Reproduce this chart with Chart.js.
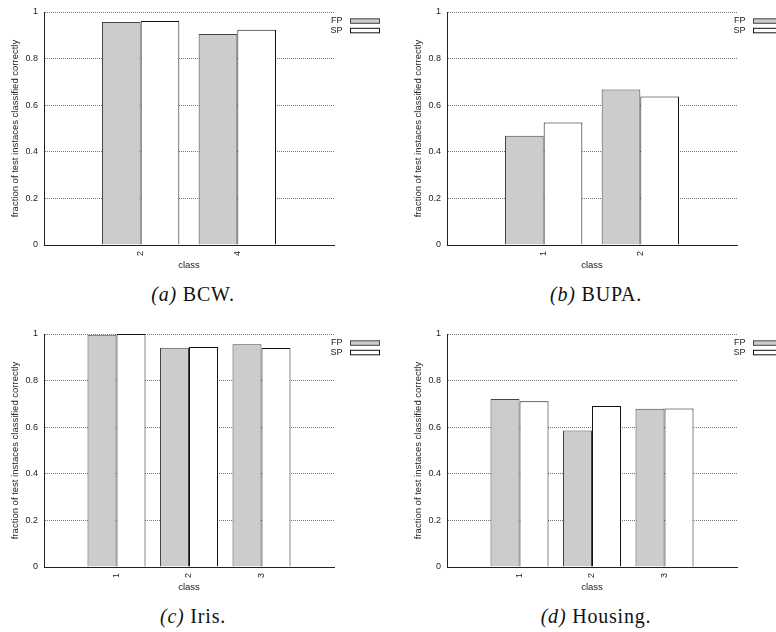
<!DOCTYPE html>
<html>
<head>
<meta charset="utf-8">
<script src="https://cdn.jsdelivr.net/npm/chart.js@4.4.1/dist/chart.umd.min.js"></script>
<style>
  html, body { margin: 0; padding: 0; background: #fff; overflow: hidden; }
  body { width: 776px; height: 632px; position: relative; }
  .panel { position: absolute; width: 403px; height: 310px; }
  .panel canvas { position: absolute; left: 0; top: 0; }
  .caption {
    position: absolute; left: 93px; width: 200px; top: 284px;
    text-align: center; font-family: "Liberation Serif", "Times New Roman", serif; font-size: 20px;
    letter-spacing: 0.8px; line-height: 20px; color: #111;
  }
</style>
</head>
<body>
<div class="panel" style="left:0;top:0"><canvas id="bcw" width="403" height="275"></canvas><div class="caption"><i>(a)</i> BCW.</div></div>
<div class="panel" style="left:403px;top:0"><canvas id="bupa" width="403" height="275"></canvas><div class="caption"><i>(b)</i> BUPA.</div></div>
<div class="panel" style="left:0;top:322px"><canvas id="iris" width="403" height="275"></canvas><div class="caption"><i>(c)</i> Iris.</div></div>
<div class="panel" style="left:403px;top:322px"><canvas id="housing" width="403" height="275"></canvas><div class="caption"><i>(d)</i> Housing.</div></div>
<script>
const seriesLabels = ["FP", "SP"];

const bcwClasses = ["2", "4"];
const bcwFP = [0.957, 0.906];
const bcwSP = [0.961, 0.924];

const bupaClasses = ["1", "2"];
const bupaFP = [0.469, 0.667];
const bupaSP = [0.526, 0.637];

const irisClasses = ["1", "2", "3"];
const irisFP = [0.997, 0.941, 0.956];
const irisSP = [1.0, 0.944, 0.94];

const housingClasses = ["1", "2", "3"];
const housingFP = [0.721, 0.586, 0.679];
const housingSP = [0.711, 0.691, 0.68];

const colors = {
  fpFill: "#cccccc",
  fpBorder: "#444",
  spFill: "#ffffff",
  spBorder: "#111",
  text: "#222",
  grid: "#777",
  axis: "#222",
};

const sans = "'Liberation Sans', Arial, sans-serif";

// gnuplot style key: label on the left, sample box on the right
const keyPlugin = {
  id: "key",
  afterDraw(chart) {
    const { ctx, chartArea } = chart;
    ctx.save();
    ctx.font = `9px ${sans}`;
    ctx.textAlign = "right";
    ctx.textBaseline = "middle";
    chart.data.datasets.forEach((ds, i) => {
      const y = chartArea.top + 8.8 + i * 9.5;
      ctx.fillStyle = colors.text;
      ctx.fillText(ds.label, chartArea.right + 8.5, y);
      ctx.fillStyle = ds.backgroundColor;
      ctx.fillRect(chartArea.right + 16.5, y - 2, 29, 4.5);
      ctx.strokeStyle = ds.borderColor;
      ctx.lineWidth = 1;
      ctx.strokeRect(chartArea.right + 16.5, y - 2, 29, 4.5);
    });
    ctx.restore();
  },
};

function makeChart(id, classes, fp, sp) {
  const ctx = document.getElementById(id).getContext("2d");
  return new Chart(ctx, {
    type: "bar",
    data: {
      datasets: [
        {
          label: seriesLabels[0],
          data: fp.map((v, i) => ({ x: i + 1, y: v })),
          backgroundColor: colors.fpFill,
          borderColor: colors.fpBorder,
          borderWidth: 1,
        },
        {
          label: seriesLabels[1],
          data: sp.map((v, i) => ({ x: i + 1, y: v })),
          backgroundColor: colors.spFill,
          borderColor: colors.spBorder,
          borderWidth: 1,
        },
      ],
    },
    options: {
      responsive: false,
      animation: false,
      events: [],
      layout: { padding: { top: 12, right: 69, left: 0, bottom: 0 } },
      datasets: { bar: { categoryPercentage: 0.8, barPercentage: 1.0, borderSkipped: "bottom" } },
      plugins: { legend: { display: false }, tooltip: { enabled: false } },
      scales: {
        x: {
          type: "linear",
          offset: false,
          min: 0,
          max: classes.length + 1,
          afterBuildTicks: (axis) => {
            axis.ticks = classes.map((c, i) => ({ value: i + 1 }));
          },
          afterFit: (scale) => {
            scale.height = 30;
          },
          ticks: {
            callback: (v) => classes[v - 1],
            minRotation: 90,
            maxRotation: 90,
            padding: 6,
            color: colors.text,
            font: { family: sans, size: 9 },
          },
          grid: { display: false, drawTicks: false, offset: false },
          border: { display: true, color: colors.axis, width: 1 },
          title: {
            display: true,
            text: "class",
            color: colors.text,
            font: { family: sans, size: 9.5 },
            padding: { top: 0, bottom: 4.3 },
          },
        },
        y: {
          min: 0,
          max: 1,
          afterFit: (scale) => {
            scale.width = 44;
          },
          ticks: {
            stepSize: 0.2,
            padding: 6,
            color: colors.text,
            font: { family: sans, size: 9 },
            callback: (v) => String(Number(v.toFixed(1))),
          },
          grid: { color: colors.grid, lineWidth: 1, drawTicks: false },
          border: { display: true, color: colors.axis, width: 1, dash: [1, 1] },
          title: {
            display: true,
            text: "fraction of test instaces classified correctly",
            color: colors.text,
            font: { family: sans, size: 9.5 },
            padding: { top: 10, bottom: 0 },
          },
        },
      },
    },
    plugins: [keyPlugin],
  });
}

makeChart("bcw", bcwClasses, bcwFP, bcwSP);
makeChart("bupa", bupaClasses, bupaFP, bupaSP);
makeChart("iris", irisClasses, irisFP, irisSP);
makeChart("housing", housingClasses, housingFP, housingSP);
</script>
</body>
</html>
